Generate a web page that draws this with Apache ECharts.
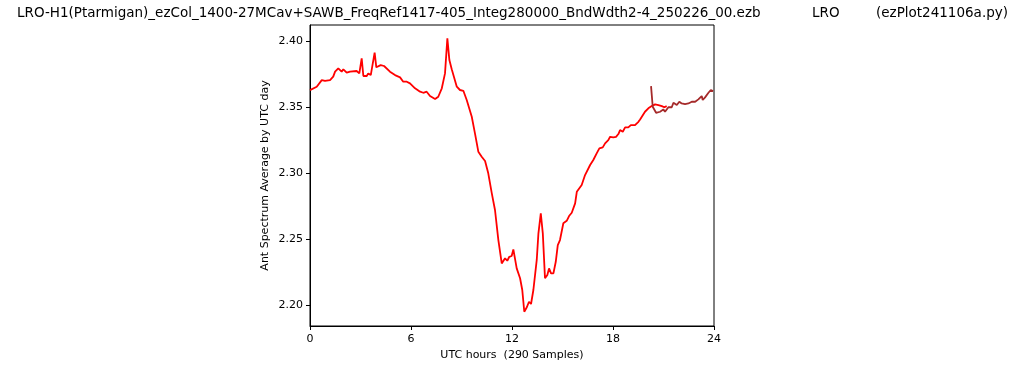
<!DOCTYPE html>
<html>
<head>
<meta charset="utf-8">
<script src="https://cdn.jsdelivr.net/npm/echarts@6/dist/echarts.min.js"></script>
<style>
html,body{margin:0;padding:0;background:#fff;}
#chart{width:1024px;height:370px;}
</style>
</head>
<body>
<div id="chart"></div>
<script>
var titleMain = "LRO-H1(Ptarmigan)_ezCol_1400-27MCav+SAWB_FreqRef1417-405_Integ280000_BndWdth2-4_250226_00.ezb";
var titleMid = "LRO";
var titleRight = "(ezPlot241106a.py)";
var xAxisName = "UTC hours  (290 Samples)";
var yAxisName = "Ant Spectrum Average by UTC day";
var yTicks = [2.20, 2.25, 2.30, 2.35, 2.40];

var redHours = [0.00,0.40,0.70,0.89,1.19,1.38,1.49,1.68,1.88,1.98,2.18,2.38,2.77,2.93,3.07,3.17,3.37,3.46,3.61,3.70,3.84,3.94,4.20,4.40,4.75,5.05,5.35,5.54,5.75,5.94,6.24,6.54,6.73,6.93,7.13,7.43,7.62,7.83,8.02,8.16,8.28,8.42,8.51,8.72,8.91,9.11,9.31,9.61,9.80,10.00,10.20,10.40,10.59,10.80,10.99,11.19,11.39,11.59,11.72,11.84,11.98,12.08,12.28,12.48,12.61,12.73,12.88,13.01,13.13,13.27,13.47,13.57,13.71,13.83,13.96,14.10,14.20,14.32,14.46,14.60,14.72,14.85,15.05,15.25,15.39,15.55,15.75,15.85,16.14,16.34,16.64,16.83,17.03,17.19,17.39,17.53,17.72,17.83,18.02,18.18,18.32,18.42,18.58,18.72,18.91,19.06,19.31,19.51,19.61,19.90,20.10,20.30,20.50,20.70,20.90,21.05,21.19];
var redValues = [2.3630,2.3656,2.3706,2.3700,2.3706,2.3732,2.3770,2.3795,2.3770,2.3788,2.3762,2.3770,2.3775,2.3757,2.3871,2.3737,2.3737,2.3757,2.3744,2.3757,2.3914,2.3803,2.3820,2.3813,2.3770,2.3744,2.3727,2.3694,2.3694,2.3681,2.3644,2.3618,2.3610,2.3618,2.3585,2.3562,2.3580,2.3644,2.3757,2.4023,2.3858,2.3788,2.3782,2.3656,2.3631,2.3625,2.3555,2.3428,2.3302,2.3163,2.3125,2.3092,2.2999,2.2847,2.2721,2.2493,2.2316,2.2354,2.2336,2.2366,2.2372,2.2422,2.2278,2.2203,2.2114,2.1949,2.1983,2.2025,2.2008,2.2114,2.2342,2.2544,2.2696,2.2544,2.2203,2.2228,2.2278,2.2240,2.2240,2.2328,2.2455,2.2493,2.2620,2.2639,2.2675,2.2700,2.2771,2.2859,2.2910,2.2986,2.3062,2.3100,2.3150,2.3188,2.3196,2.3226,2.3251,2.3276,2.3272,2.3276,2.3297,2.3327,2.3314,2.3348,2.3348,2.3365,2.3365,2.3390,2.3408,2.3466,2.3492,2.3509,2.3522,2.3517,2.3509,2.3500,2.3509];

var brownHours = [20.26,20.36,20.56,20.80,20.99,21.09,21.29,21.49,21.59,21.79,21.94,22.08,22.28,22.48,22.68,22.88,23.07,23.27,23.33,23.47,23.67,23.81,23.95];
var brownValues = [2.3660,2.3504,2.3458,2.3466,2.3484,2.3466,2.3500,2.3500,2.3534,2.3517,2.3542,2.3529,2.3524,2.3529,2.3542,2.3542,2.3560,2.3585,2.3555,2.3575,2.3610,2.3631,2.3623];

function pairs(xs, ys){ return xs.map(function(x,i){ return [x, ys[i]]; }); }

var FONT = 'DejaVu Sans';
var tStyle = {fontFamily:FONT,fontSize:13.5,fontWeight:'normal',color:'#000'};
var chart = echarts.init(document.getElementById('chart'), null, {renderer:'canvas'});
chart.setOption({
  animation: false,
  backgroundColor: '#fff',
  title: [
    {text: titleMain, left: 17, top: 6, padding: 0, textStyle: tStyle},
    {text: titleMid, left: 812, top: 6, padding: 0, textStyle: tStyle},
    {text: titleRight, right: 16, top: 6, padding: 0, textStyle: tStyle}
  ],
  grid: {left: 310, right: 310, top: 25, bottom: 44, show: true, borderColor: '#000', borderWidth: 1, containLabel: false},
  xAxis: {
    type: 'value', min: 0, max: 24, interval: 6,
    name: xAxisName, nameLocation: 'middle', nameGap: 24,
    nameTextStyle: {fontFamily:FONT, fontSize:11, color:'#000'},
    axisLine: {show:true, lineStyle:{color:'#000', width:1}},
    axisTick: {show:true, inside:false, length:4, lineStyle:{color:'#000'}},
    axisLabel: {fontFamily:FONT, fontSize:11, color:'#000', margin:8},
    splitLine: {show:false}
  },
  yAxis: {
    type: 'value', min: 2.1841, max: 2.4124,
    name: yAxisName, nameLocation: 'middle', nameGap: 39, nameRotate: 90,
    nameTextStyle: {fontFamily:FONT, fontSize:11, color:'#000'},
    axisLine: {show:true, lineStyle:{color:'#000', width:1}},
    axisTick: {show:true, inside:false, length:4, customValues: yTicks, lineStyle:{color:'#000'}},
    axisLabel: {fontFamily:FONT, fontSize:11, color:'#000', margin:7, customValues: yTicks,
      formatter: function(v){ return v.toFixed(2); }},
    splitLine: {show:false}
  },
  series: [
    {type:'line', data: pairs(redHours, redValues), showSymbol:false, symbol:'none',
     lineStyle:{color:'#ff0000', width:1.8}, itemStyle:{color:'#ff0000'}, z:2},
    {type:'line', data: pairs(brownHours, brownValues), showSymbol:false, symbol:'none',
     lineStyle:{color:'#a52a2a', width:1.8}, itemStyle:{color:'#a52a2a'}, z:3}
  ]
});
</script>
</body>
</html>
